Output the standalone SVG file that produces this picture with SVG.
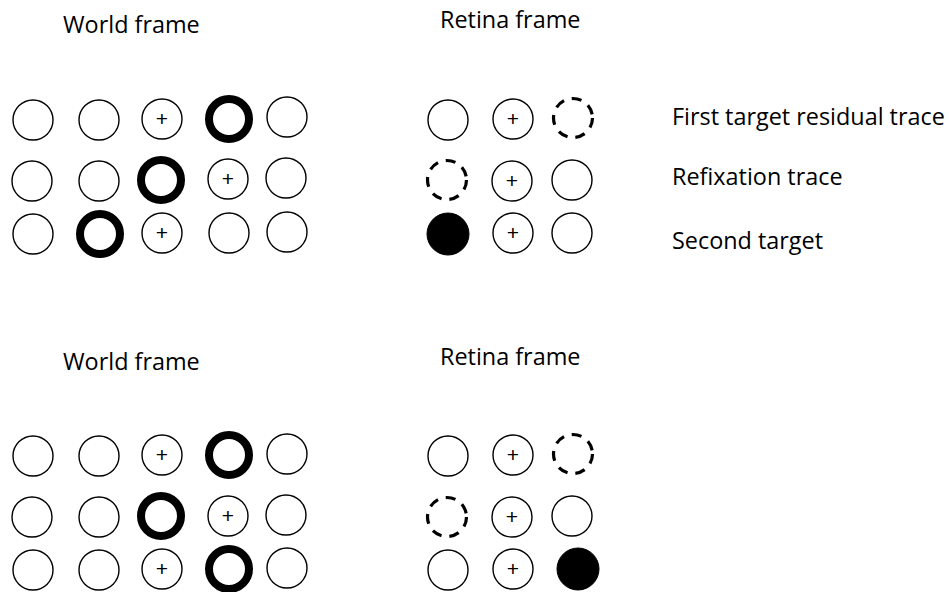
<svg xmlns="http://www.w3.org/2000/svg" width="949" height="592" viewBox="0 0 949 592">
<defs>
<style>
.c{fill:#fff;stroke:#000;stroke-width:1.4}
.t{fill:#fff;stroke:#000;stroke-width:8}
.d{fill:#fff;stroke:#000;stroke-width:3.2;stroke-dasharray:10 8}
.f{fill:#000;stroke:#000;stroke-width:1}
.lbl{font-family:"Open Sans","Liberation Sans",sans-serif;font-size:23.4px;fill:#000}
.p{font-family:"Liberation Sans",sans-serif;font-size:21px;fill:#000;text-anchor:middle}
</style>
</defs>
<g id="labels">
<text class="lbl" x="63" y="33">World frame</text>
<text class="lbl" x="440" y="28">Retina frame</text>
<text class="lbl" x="672" y="125">First target residual trace</text>
<text class="lbl" x="672" y="185">Refixation trace</text>
<text class="lbl" x="672" y="249">Second target</text>
<text class="lbl" x="63" y="370">World frame</text>
<text class="lbl" x="440" y="365">Retina frame</text>
</g>
<g id="world-top">
<circle class="c" cx="33" cy="120" r="20"/>
<circle class="c" cx="99" cy="120" r="20"/>
<circle class="c" cx="162" cy="119" r="20"/><text class="p" x="162" y="126">+</text>
<circle class="t" cx="229" cy="119" r="20"/>
<circle class="c" cx="287" cy="117" r="20"/>
<circle class="c" cx="32" cy="181" r="20"/>
<circle class="c" cx="99" cy="181" r="20"/>
<circle class="t" cx="161" cy="180" r="20"/>
<circle class="c" cx="228" cy="179" r="20"/><text class="p" x="228" y="186">+</text>
<circle class="c" cx="286" cy="178" r="20"/>
<circle class="c" cx="33" cy="234" r="20"/>
<circle class="t" cx="100" cy="234" r="20"/>
<circle class="c" cx="162" cy="233" r="20"/><text class="p" x="162" y="240">+</text>
<circle class="c" cx="229" cy="233" r="20"/>
<circle class="c" cx="287" cy="232" r="20"/>
</g>
<g id="retina-top">
<circle class="c" cx="448" cy="120" r="20"/>
<circle class="c" cx="513" cy="119" r="20"/><text class="p" x="513" y="126">+</text>
<circle class="d" cx="573" cy="118" r="19.5"/>
<circle class="d" cx="447" cy="180" r="19.5"/>
<circle class="c" cx="512" cy="181" r="20"/><text class="p" x="512" y="188">+</text>
<circle class="c" cx="572" cy="180" r="20"/>
<circle class="f" cx="448" cy="234" r="21"/>
<circle class="c" cx="513" cy="233" r="20"/><text class="p" x="513" y="240">+</text>
<circle class="c" cx="572" cy="233" r="20"/>
</g>
<g id="world-bottom">
<circle class="c" cx="33" cy="456" r="20"/>
<circle class="c" cx="99" cy="456" r="20"/>
<circle class="c" cx="162" cy="455" r="20"/><text class="p" x="162" y="462">+</text>
<circle class="t" cx="229" cy="455" r="20"/>
<circle class="c" cx="287" cy="454" r="20"/>
<circle class="c" cx="32" cy="517" r="20"/>
<circle class="c" cx="99" cy="517" r="20"/>
<circle class="t" cx="161" cy="516" r="20"/>
<circle class="c" cx="228" cy="516" r="20"/><text class="p" x="228" y="523">+</text>
<circle class="c" cx="286" cy="515" r="20"/>
<circle class="c" cx="33" cy="570" r="20"/>
<circle class="c" cx="99" cy="570" r="20"/>
<circle class="c" cx="162" cy="569" r="20"/><text class="p" x="162" y="576">+</text>
<circle class="t" cx="229" cy="569" r="20"/>
<circle class="c" cx="287" cy="568" r="20"/>
</g>
<g id="retina-bottom">
<circle class="c" cx="448" cy="456" r="20"/>
<circle class="c" cx="513" cy="455" r="20"/><text class="p" x="513" y="462">+</text>
<circle class="d" cx="573" cy="454" r="19.5"/>
<circle class="d" cx="447" cy="517" r="19.5"/>
<circle class="c" cx="512" cy="517" r="20"/><text class="p" x="512" y="524">+</text>
<circle class="c" cx="572" cy="516" r="20"/>
<circle class="c" cx="448" cy="570" r="20"/>
<circle class="c" cx="513" cy="569" r="20"/><text class="p" x="513" y="576">+</text>
<circle class="f" cx="578" cy="569" r="21"/>
</g>
<g id="connectors"/>
</svg>
